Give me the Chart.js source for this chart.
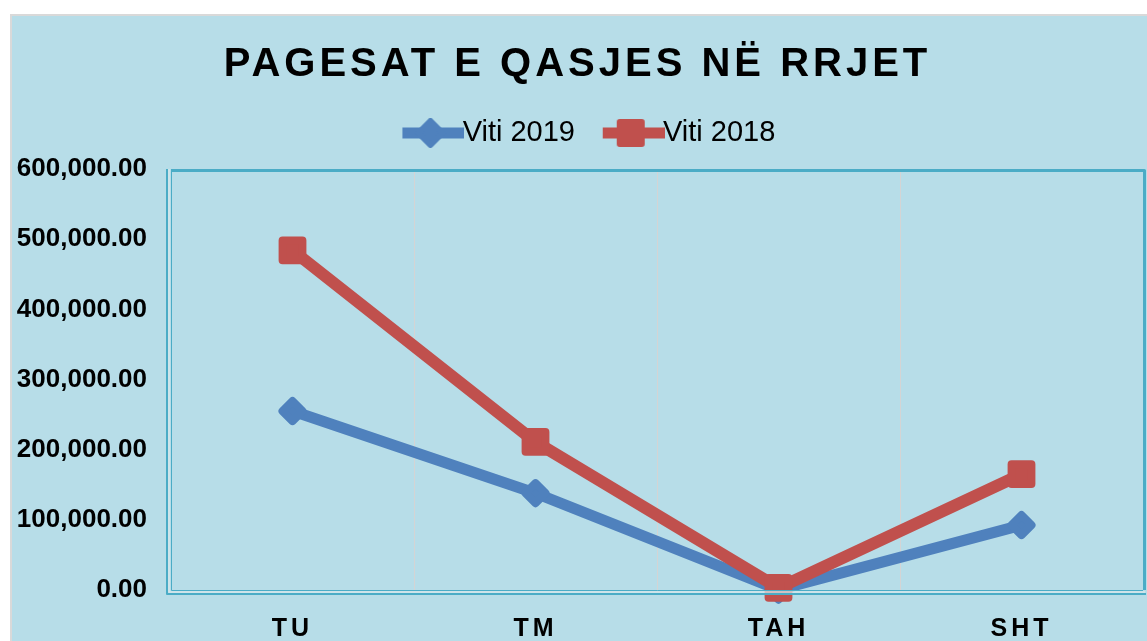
<!DOCTYPE html>
<html>
<head>
<meta charset="utf-8">
<script src="https://cdn.jsdelivr.net/npm/chart.js@4.4.1/dist/chart.umd.min.js"></script>
<style>
  html, body { margin: 0; padding: 0; background: #fff; }
  #wrap {
    position: absolute; left: 10px; top: 14px;
    width: 1137px; height: 627px; box-sizing: border-box;
    border-left: 2px solid #d9d9d9; border-top: 2px solid #d9d9d9;
    background: #b7dde8;
  }
  canvas { display: block; }
</style>
</head>
<body>
<div id="wrap"><canvas id="chart" width="1135" height="625"></canvas></div>
<script>
const categories = ["TU", "TM", "TAH", "SHT"];
const seriesNames = ["Viti 2019", "Viti 2018"];
const viti2019 = [255000, 138000, 500, 92500];
const viti2018 = [484000, 211000, 3000, 165000];

const BLUE = "#4f81bd";
const RED = "#c0504d";
const TEAL = "#4bacc6";
const FONT = "'Liberation Sans', Arial, sans-serif";

/* ---------- legend markers (line + marker) ---------- */

// image is wider than the visible marker; left part stays transparent so
// the legend items get the wide spacing of the original
function legendMarker(color, diamond) {
  const c = document.createElement("canvas");
  c.width = 93;
  c.height = 30;
  const g = c.getContext("2d");
  const x0 = 31, x1 = 93, cx = 59;
  g.strokeStyle = color;
  g.fillStyle = color;
  g.lineWidth = 11;
  g.beginPath();
  g.moveTo(x0, 15);
  g.lineTo(x1, 15);
  g.stroke();
  g.lineJoin = "round";
  g.lineWidth = 6;
  g.beginPath();
  if (diamond) {
    g.moveTo(cx, 3); g.lineTo(cx + 12, 15); g.lineTo(cx, 27); g.lineTo(cx - 12, 15);
  } else {
    g.rect(cx - 11, 4, 22, 22);
  }
  g.closePath();
  g.fill();
  g.stroke();
  return c;
}

const markers = [legendMarker(BLUE, true), legendMarker(RED, false)];

/* ---------- plugins ---------- */

const tweaks = {
  id: "tweaks",
  beforeLayout(chart) {
    const lg = chart.legend;
    if (lg && !lg._tw) {
      const f = lg.fit;
      lg.fit = function (...args) {
        f.apply(this, args);
        this.height += 11.5;
      };
      const d = lg.draw;
      lg.draw = function (...args) {
        chart.ctx.save();
        chart.ctx.translate(4, 0);
        d.apply(this, args);
        chart.ctx.restore();
      };
      lg._tw = true;
    }
  },
  beforeDraw(chart) {
    const patch = (obj, fn, px) => {
      if (!obj || obj["_sp_" + fn]) return;
      const orig = obj[fn];
      obj[fn] = function (...args) {
        const ctx = chart.ctx;
        ctx.save();
        ctx.letterSpacing = px;
        orig.apply(this, args);
        ctx.restore();
      };
      obj["_sp_" + fn] = true;
    };
    patch(chart.titleBlock, "draw", "4px");
    patch(chart.scales.x, "drawLabels", "4px");
  },
  beforeDatasetsDraw(chart) {
    chart.ctx.lineJoin = "round";
  }
};

const plotFrame = {
  id: "plotFrame",
  afterDraw(chart) {
    const { ctx, chartArea: a } = chart;
    ctx.save();
    ctx.strokeStyle = TEAL;
    // top & right thick
    ctx.lineWidth = 3;
    ctx.beginPath();
    ctx.moveTo(a.left, a.top + 1.5);
    ctx.lineTo(a.right + 1.5, a.top + 1.5);
    ctx.lineTo(a.right + 1.5, a.bottom);
    ctx.stroke();
    // left & bottom double line
    ctx.lineWidth = 2;
    ctx.beginPath();
    ctx.moveTo(a.left - 4, a.top);
    ctx.lineTo(a.left - 4, a.bottom + 4);
    ctx.lineTo(a.right + 3, a.bottom + 4);
    ctx.stroke();
    ctx.lineWidth = 1;
    ctx.beginPath();
    ctx.moveTo(a.left + 0.5, a.top);
    ctx.lineTo(a.left + 0.5, a.bottom + 0.5);
    ctx.lineTo(a.right, a.bottom + 0.5);
    ctx.stroke();
    ctx.strokeStyle = "#d6e6ea";
    ctx.lineWidth = 1.5;
    ctx.beginPath();
    ctx.moveTo(a.left - 2, a.top);
    ctx.lineTo(a.left - 2, a.bottom + 2);
    ctx.lineTo(a.right + 2, a.bottom + 2);
    ctx.stroke();
    ctx.restore();
  }
};

/* ---------- chart ---------- */

new Chart(document.getElementById("chart"), {
  type: "line",
  data: {
    labels: categories,
    datasets: [
      {
        label: seriesNames[0],
        data: viti2019,
        order: 1,
        borderColor: BLUE,
        backgroundColor: BLUE,
        borderWidth: 11,
        pointStyle: "rectRot",
        pointRadius: 10,
        pointBorderWidth: 8,
        pointHoverRadius: 10,
        clip: false
      },
      {
        label: seriesNames[1],
        data: viti2018,
        order: 0,
        borderColor: RED,
        backgroundColor: RED,
        borderWidth: 12,
        pointStyle: "rect",
        pointRadius: 14,
        pointBorderWidth: 8,
        pointHoverRadius: 14,
        clip: false
      }
    ]
  },
  options: {
    responsive: false,
    animation: false,
    layout: { autoPadding: false, padding: { left: 0, right: 4, top: 0, bottom: 0 } },
    plugins: {
      title: {
        display: true,
        text: "PAGESAT E QASJES NË RRJET",
        color: "#000",
        font: { family: FONT, size: 40, weight: "bold" },
        padding: { top: 25, bottom: 16.5 }
      },
      legend: {
        position: "top",
        labels: {
          color: "#000",
          font: { family: FONT, size: 29 },
          usePointStyle: true,
          pointStyleWidth: 60.5,
          padding: 13,
          generateLabels(chart) {
            const items = Chart.defaults.plugins.legend.labels.generateLabels(chart);
            items.sort((a, b) => a.datasetIndex - b.datasetIndex);
            items.forEach(it => { it.pointStyle = markers[it.datasetIndex]; });
            return items;
          },
          sort: (a, b) => a.datasetIndex - b.datasetIndex
        }
      },
      tooltip: { enabled: false }
    },
    scales: {
      x: {
        offset: true,
        border: { display: false },
        grid: { display: true, offset: true, color: "#d4d4d4", lineWidth: 1, drawTicks: false },
        ticks: {
          color: "#000",
          padding: 24,
          font: { family: FONT, size: 25, weight: "bold" }
        },
        afterFit(scale) {
          scale.height = 51;
          scale.paddingLeft = 0;
          scale.paddingRight = 0;
        }
      },
      y: {
        min: 0,
        max: 600000,
        border: { display: false },
        grid: { display: false, drawTicks: false },
        ticks: {
          stepSize: 100000,
          color: "#000",
          padding: 24,
          font: { family: FONT, size: 26, weight: "bold" },
          callback: v => v.toLocaleString("en-US", { minimumFractionDigits: 2, maximumFractionDigits: 2 })
        },
        afterFit(scale) { scale.width = 159; }
      }
    }
  },
  plugins: [tweaks, plotFrame]
});
</script>
</body>
</html>
